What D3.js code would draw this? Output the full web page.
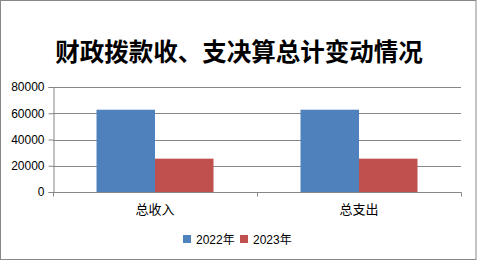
<!DOCTYPE html>
<html><head><meta charset="utf-8">
<script src="https://cdn.jsdelivr.net/npm/d3@7"></script>
<style>body{margin:0;background:#fff}svg{display:block}</style>
</head><body>
<script>
const categories = ["总收入", "总支出"];
const seriesNames = ["2022年", "2023年"];
const values2022 = [62700, 62700];
const values2023 = [25400, 25400];
const yTicks = [0, 20000, 40000, 60000, 80000];
const colors = ["#4F81BD", "#C0504D"];

(function () {
const W = 477, H = 260;
const svg = d3.select("body").append("svg").attr("width", W).attr("height", H);
svg.append("rect").attr("x", 0.5).attr("y", 0.5).attr("width", W - 1.5).attr("height", H - 1)
  .attr("fill", "#fff").attr("stroke", "#888").attr("stroke-width", 1);

svg.append("text").attr("x", 239).attr("y", 61).attr("text-anchor", "middle")
  .style("font-family", "'Noto Sans CJK SC'").style("font-weight", "bold").style("font-size", "24.5px")
  .text("财政拨款收、支决算总计变动情况");

const pl = 53, pr = 461, pt = 87, pb = 192;
const x = d3.scaleBand().domain(categories).range([pl, pr]);
const y = d3.scaleLinear().domain([0, 80000]).range([pb, pt]);
const xs = d3.scaleBand().domain(seriesNames).range([0, 117]);

svg.append("g").selectAll("line").data(yTicks.filter(d => d > 0)).join("line")
  .attr("x1", pl).attr("x2", pr).attr("y1", d => Math.round(y(d)) + 0.5).attr("y2", d => Math.round(y(d)) + 0.5)
  .attr("stroke", "#868686");

const data = categories.map((c, i) => ({c, vals: [values2022[i], values2023[i]]}));
const g = svg.append("g");
data.forEach(d => {
  const cx = x(d.c) + x.bandwidth() / 2 - 58.5;
  d.vals.forEach((v, j) => {
    g.append("rect").attr("x", cx + xs(seriesNames[j])).attr("width", xs.bandwidth())
      .attr("y", y(v)).attr("height", y(0) - y(v)).attr("fill", colors[j]);
  });
});

const ya = svg.append("g").attr("transform", `translate(${pl + 0.5},0)`)
  .call(d3.axisLeft(y).tickValues(yTicks).tickSize(5).tickPadding(4).tickFormat(d3.format("d")));
ya.selectAll("line,path").attr("stroke", "#868686");
ya.selectAll("text").style("font-family", "'Liberation Sans', Arial").style("font-size", "12px").attr("fill", "#000");

const xa = svg.append("g").attr("transform", `translate(0,${Math.round(pb) + 0.5})`);
xa.append("line").attr("x1", pl).attr("x2", pr + 0.5).attr("stroke", "#868686");
const bounds = [pl, x(categories[1]), pr];
xa.selectAll(".t").data(bounds).join("line").attr("x1", d => Math.round(d) + 0.5).attr("x2", d => Math.round(d) + 0.5)
  .attr("y1", 0).attr("y2", 4).attr("stroke", "#868686");
xa.selectAll("text").data(categories).join("text")
  .attr("x", d => x(d) + x.bandwidth() / 2).attr("y", 21).attr("text-anchor", "middle")
  .style("font-family", "'Noto Sans CJK SC'").style("font-size", "13px").text(d => d);

const leg = svg.append("g");
const lx = [183, 240];
seriesNames.forEach((s, i) => {
  leg.append("rect").attr("x", lx[i]).attr("y", 235).attr("width", 8).attr("height", 8).attr("fill", colors[i]);
  leg.append("text").attr("x", lx[i] + 13).attr("y", 243.5)
    .style("font-family", "'Liberation Sans', 'Noto Sans CJK SC'").style("font-size", "12px").text(s);
});
})();
</script>
</body></html>
